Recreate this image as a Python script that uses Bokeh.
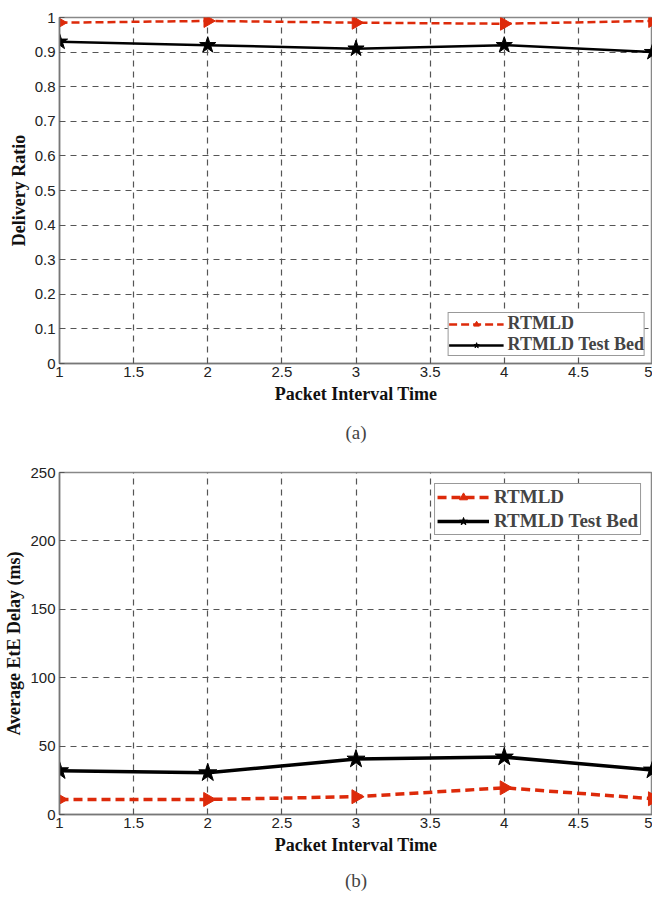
import numpy as np
from bokeh.plotting import figure
from bokeh.layouts import column
from bokeh.models import FixedTicker, Title, Range1d
from bokeh.embed import file_html
from bokeh.resources import INLINE

# ---- data ----
interval = [1, 2, 3, 4, 5]
pdr_rtmld = [0.985, 0.99, 0.985, 0.982, 0.99]
pdr_testbed = [0.93, 0.92, 0.91, 0.92, 0.90]
delay_rtmld = [11, 11, 13, 19.5, 11.5]
delay_testbed = [32, 30.5, 40.5, 42, 32.5]

x_ticks = [1, 1.5, 2, 2.5, 3, 3.5, 4, 4.5, 5]
x_tick_labels = ["1", "1.5", "2", "2.5", "3", "3.5", "4", "4.5", "5"]
ya_ticks = [0, 0.1, 0.2, 0.3, 0.4, 0.5, 0.6, 0.7, 0.8, 0.9, 1.0]
ya_tick_labels = ["0", "0.1", "0.2", "0.3", "0.4", "0.5", "0.6", "0.7", "0.8", "0.9", "1"]
yb_ticks = [0, 50, 100, 150, 200, 250]
yb_tick_labels = ["0", "50", "100", "150", "200", "250"]

RED = "#dd2a0a"
SANS = "Liberation Sans"
SERIF = "Liberation Serif"


def style(p, yticks, ylabels, ylab, caption, cap_standoff):
    p.xaxis.ticker = FixedTicker(ticks=x_ticks)
    p.xaxis.major_label_overrides = {t: l for t, l in zip(x_ticks, x_tick_labels)}
    p.yaxis.ticker = FixedTicker(ticks=yticks)
    p.yaxis.major_label_overrides = {t: l for t, l in zip(yticks, ylabels)}
    for ax in (p.xaxis, p.yaxis):
        ax.major_label_text_font = SANS
        ax.major_label_text_font_size = "15px"
        ax.major_label_text_color = "#222222"
        ax.axis_label_text_font = SERIF
        ax.axis_label_text_font_style = "bold"
        ax.axis_label_text_font_size = "18px"
        ax.axis_label_text_color = "#111111"
        ax.major_tick_in = 5
        ax.major_tick_out = 0
        ax.minor_tick_in = 0
        ax.minor_tick_out = 0
        ax.axis_line_color = "#777777"
        ax.axis_line_width = 1.5
        ax.major_tick_line_color = "#555555"
    p.xaxis.axis_label = "Packet Interval Time"
    p.yaxis.axis_label = ylab
    p.xaxis.major_label_standoff = 3
    p.yaxis.major_label_standoff = 4
    p.xaxis.axis_label_standoff = 4
    p.yaxis.axis_label_standoff = 3
    for g in (p.xgrid, p.ygrid):
        g.grid_line_color = "#555555"
        g.grid_line_dash = "6 5"
        g.grid_line_width = 1.2
    p.outline_line_color = "#888888"
    p.outline_line_width = 1.5
    p.add_layout(Title(text=caption, align="center", text_font=SERIF,
                       text_font_style="normal", text_font_size="19px",
                       standoff=cap_standoff), "below")
    p.legend.label_text_font = SERIF
    p.legend.label_text_font_style = "bold"
    p.legend.border_line_color = "#333333"
    p.legend.border_line_width = 1
    p.legend.background_fill_alpha = 1


# ---- (a) ----
pa = figure(width=652, height=455, output_backend="svg", toolbar_location=None,
            x_range=Range1d(1, 5), y_range=Range1d(0, 1),
            min_border_left=57, min_border_right=0, min_border_top=17,
            min_border_bottom=90)
pa.line(interval, pdr_rtmld, color=RED, line_width=2.5, line_dash="8 4",
        legend_label="RTMLD")
pa.scatter(interval, pdr_rtmld, marker="triangle", angle=-np.pi / 2, size=13,
           color=RED, legend_label="RTMLD")
pa.line(interval, pdr_testbed, color="black", line_width=2.5,
        legend_label="RTMLD Test Bed")
pa.scatter(interval, pdr_testbed, marker="star", size=17, color="black",
           legend_label="RTMLD Test Bed")
style(pa, ya_ticks, ya_tick_labels, "Delivery Ratio", "(a)", 26)
pa.legend.location = "bottom_right"
pa.legend.margin = 7
pa.legend.label_text_font_size = "18px"
pa.legend.glyph_width = 55
pa.legend.glyph_height = 14
pa.legend.label_height = 14
pa.legend.spacing = -4
pa.legend.padding = 0
pa.legend.label_standoff = 4

# ---- (b) ----
pb = figure(width=652, height=446, output_backend="svg", toolbar_location=None,
            x_range=Range1d(1, 5), y_range=Range1d(0, 250),
            min_border_left=59, min_border_right=0, min_border_top=17,
            min_border_bottom=82)
pb.line(interval, delay_rtmld, color=RED, line_width=3.5, line_dash="9 5",
        legend_label="RTMLD")
pb.scatter(interval, delay_rtmld, marker="triangle", angle=-np.pi / 2, size=14,
           color=RED, legend_label="RTMLD")
pb.line(interval, delay_testbed, color="black", line_width=3.5,
        legend_label="RTMLD Test Bed")
pb.scatter(interval, delay_testbed, marker="star", size=19, color="black",
           legend_label="RTMLD Test Bed")
style(pb, yb_ticks, yb_tick_labels, "Average EtE Delay (ms)", "(b)", 21)
pb.legend.location = "top_right"
pb.legend.margin = 11
pb.legend.label_text_font_size = "19px"
pb.legend.glyph_width = 52
pb.legend.glyph_height = 20
pb.legend.label_height = 20
pb.legend.spacing = 2
pb.legend.padding = 2

layout = column(pa, pb, spacing=0)
open("out.html", "w").write(file_html(layout, INLINE))
